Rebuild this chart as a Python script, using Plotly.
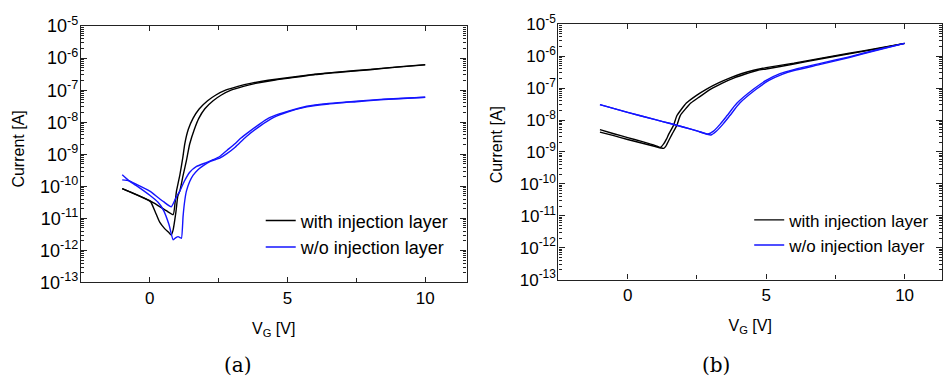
import numpy as np
import plotly.graph_objects as go

# ---------------- data (log10 of current in A) ----------------
# Panel (a)
a_with_1_v = [-1.0, -0.5, 0.0, 0.3, 0.6, 0.85, 0.92, 0.97, 1.03, 1.09, 1.2, 1.27, 1.4, 1.57, 1.8,
              2.1, 2.4, 2.75, 3.2, 3.7, 4.3, 5.0, 6.0, 7.0, 8.0, 9.0, 10.0]
a_with_1_log = [-10.07, -10.25, -10.45, -10.6, -10.76, -10.88, -10.5, -10.15, -9.9, -9.66, -9.1, -8.68,
                -8.22, -7.88, -7.58, -7.33, -7.15, -7.0, -6.88, -6.78, -6.69, -6.61, -6.5, -6.42,
                -6.35, -6.27, -6.2]
a_with_2_v = [-1.0, -0.5, 0.0, 0.04, 0.2, 0.36, 0.54, 0.7, 0.78, 0.85, 0.95, 1.02, 1.09, 1.21, 1.33,
              1.45, 1.62, 1.78, 2.0, 2.3, 2.6, 2.95, 3.4, 3.9, 4.5, 5.0, 6.0, 7.0, 8.0, 9.0, 10.0]
a_with_2_log = [-10.07, -10.26, -10.46, -10.49, -10.8, -11.12, -11.32, -11.45, -11.52, -11.35, -10.8,
                -10.3, -10.15, -9.66, -9.2, -8.68, -8.22, -7.88, -7.58, -7.33, -7.15, -7.0, -6.88,
                -6.78, -6.69, -6.63, -6.51, -6.43, -6.36, -6.28, -6.21]
a_wo_1_v = [-1.0, -0.75, -0.5, 0.0, 0.3, 0.5, 0.78, 0.9, 1.0, 1.09, 1.25, 1.45, 1.7, 2.05, 2.3, 2.54,
            2.8, 3.08, 3.3, 3.6, 4.0, 4.3, 4.7, 5.0, 5.7, 6.5, 7.5, 8.5, 9.2, 10.0]
a_wo_1_log = [-9.8, -9.83, -9.93, -10.15, -10.35, -10.48, -10.64, -10.45, -10.28, -10.15, -9.85, -9.56,
              -9.38, -9.26, -9.17, -9.07, -8.88, -8.68, -8.5, -8.3, -8.05, -7.88, -7.74, -7.66, -7.5,
              -7.41, -7.34, -7.28, -7.25, -7.22]
a_wo_2_v = [-1.0, -0.75, -0.5, 0.0, 0.3, 0.5, 0.7, 0.85, 0.95, 1.03, 1.1, 1.15, 1.21, 1.27, 1.33, 1.45,
            1.57, 1.75, 1.93, 2.2, 2.54, 2.8, 3.1, 3.5, 4.0, 4.5, 5.0, 5.7, 6.5, 7.5, 8.5, 9.2, 10.0]
a_wo_2_log = [-9.64, -9.83, -9.97, -10.28, -10.5, -10.75, -11.2, -11.67, -11.6, -11.57, -11.6, -11.62,
              -10.93, -10.45, -10.15, -9.85, -9.66, -9.48, -9.36, -9.22, -9.12, -8.98, -8.78, -8.45,
              -8.12, -7.85, -7.68, -7.52, -7.43, -7.36, -7.29, -7.26, -7.22]

# Panel (b)
b_with_1_v = [-1.0, -0.5, 0.0, 0.5, 1.0, 1.18, 1.3, 1.4, 1.48, 1.66, 1.78, 2.12, 2.5, 2.85, 3.3, 3.7,
              4.1, 4.55, 5.0, 6.0, 7.0, 8.0, 9.0, 10.0]
b_with_1_log = [-8.30, -8.43, -8.55, -8.67, -8.8, -8.86, -8.75, -8.6, -8.45, -8.16, -7.86, -7.47, -7.22,
                -7.03, -6.83, -6.68, -6.55, -6.44, -6.36, -6.22, -6.06, -5.91, -5.76, -5.6]
b_with_2_v = [-1.0, -0.5, 0.0, 0.5, 1.0, 1.3, 1.38, 1.48, 1.6, 1.78, 1.9, 2.28, 2.6, 3.0, 3.4, 3.85,
              4.25, 4.7, 5.0, 6.0, 7.0, 8.0, 9.0, 10.0]
b_with_2_log = [-8.38, -8.49, -8.61, -8.72, -8.83, -8.89, -8.82, -8.65, -8.45, -8.16, -7.86, -7.47,
                -7.27, -7.03, -6.85, -6.68, -6.56, -6.44, -6.4, -6.25, -6.08, -5.93, -5.77, -5.6]
b_wo_1_v = [-1.0, 0.0, 1.0, 1.54, 2.0, 2.5, 2.9, 3.1, 3.35, 3.6, 3.95, 4.55, 5.0, 5.5, 6.0, 7.0, 8.0,
            9.0, 10.0]
b_wo_1_log = [-7.52, -7.76, -7.99, -8.11, -8.22, -8.34, -8.44, -8.35, -8.12, -7.85, -7.47, -7.03, -6.76,
              -6.55, -6.42, -6.22, -6.02, -5.8, -5.6]
b_wo_2_v = [-1.0, 0.0, 1.0, 1.54, 2.0, 2.5, 3.0, 3.2, 3.45, 3.7, 4.05, 4.65, 5.1, 5.6, 6.0, 7.0, 8.0,
            9.0, 10.0]
b_wo_2_log = [-7.52, -7.76, -7.99, -8.11, -8.22, -8.34, -8.47, -8.35, -8.12, -7.85, -7.47, -7.03, -6.76,
              -6.56, -6.45, -6.25, -6.04, -5.82, -5.6]

series_names = ["with injection layer", "w/o injection layer"]
y_tick_exponents = [-13, -12, -11, -10, -9, -8, -7, -6, -5]
x_tick_values = [0, 5, 10]
captions = ["(a)", "(b)"]
y_title = "Current [A]"
x_title = "V<sub>G</sub> [V]"

# ---------------- figure ----------------
W, H = 943, 381
BLACK = "#000000"
BLUE = "#1414ff"
FONT = "Liberation Sans"

fig = go.Figure()


def add(x, logy, color, name, show, xa, ya, legend):
    fig.add_trace(go.Scatter(
        x=x, y=np.power(10.0, logy), mode="lines", name=name, showlegend=show,
        line=dict(color=color, width=1.4, shape="spline", smoothing=0.5),
        xaxis=xa, yaxis=ya, legend=legend))


add(a_with_1_v, a_with_1_log, BLACK, series_names[0], True, "x", "y", "legend")
add(a_with_2_v, a_with_2_log, BLACK, series_names[0], False, "x", "y", "legend")
add(a_wo_1_v, a_wo_1_log, BLUE, series_names[1], True, "x", "y", "legend")
add(a_wo_2_v, a_wo_2_log, BLUE, series_names[1], False, "x", "y", "legend")

add(b_with_1_v, b_with_1_log, BLACK, series_names[0], True, "x2", "y2", "legend2")
add(b_with_2_v, b_with_2_log, BLACK, series_names[0], False, "x2", "y2", "legend2")
add(b_wo_1_v, b_wo_1_log, BLUE, series_names[1], True, "x2", "y2", "legend2")
add(b_wo_2_v, b_wo_2_log, BLUE, series_names[1], False, "x2", "y2", "legend2")

ytickvals = [10.0 ** e for e in y_tick_exponents]
yticktext = ["10<sup>%d</sup>" % e for e in y_tick_exponents]
yminor = [k * 10.0 ** e for e in y_tick_exponents[:-1] for k in range(2, 10)]


def xaxis(domain, rng, anchor):
    return dict(domain=domain, range=rng, anchor=anchor, tickmode="array", tickvals=x_tick_values,
                ticks="inside", ticklen=5, tickwidth=1, tickcolor="#222",
                showline=True, linecolor="#222", linewidth=1.3, mirror="ticks",
                showgrid=False, zeroline=False,
                minor=dict(tickmode="array", tickvals=[2.5, 7.5], ticks="inside", ticklen=4,
                           tickcolor="#222", showgrid=False),
                tickfont=dict(family=FONT, size=17, color="black"),
                title=dict(text=x_title, font=dict(family=FONT, size=16, color="black"),
                           standoff=15))


def yaxis(domain, anchor, size):
    return dict(domain=domain, type="log", range=[-13, -5], anchor=anchor, tickmode="array",
                tickvals=ytickvals, ticktext=yticktext,
                ticks="inside", ticklen=6, tickwidth=1, tickcolor="#222",
                showline=True, linecolor="#222", linewidth=1.3, mirror="ticks",
                showgrid=False, zeroline=False, ticklabelstandoff=-2,
                minor=dict(tickmode="array", tickvals=yminor, ticks="inside", ticklen=3,
                           tickcolor="#222", showgrid=False),
                tickfont=dict(family=FONT, size=size, color="black"))


def ann_ytitle(xpx, ypx):
    return dict(text=y_title, x=xpx / W, y=1 - ypx / H, xref="paper", yref="paper",
                xanchor="center", yanchor="middle", textangle=-90, showarrow=False,
                font=dict(family=FONT, size=16, color="black"))


fig.update_layout(
    width=W, height=H, margin=dict(l=0, r=0, t=0, b=0),
    paper_bgcolor="white", plot_bgcolor="white",
    xaxis=xaxis([81 / W, 467 / W], [-2.5, 11.5], "y"),
    yaxis=yaxis([1 - 287 / H, 1 - 15 / H], "x", 18),
    xaxis2=xaxis([559 / W, 1.0], [-2.5, 11.35], "y2"),
    yaxis2=yaxis([1 - 284 / H, 1 - 13 / H], "x2", 17),
    legend=dict(x=261 / W, y=1 - 202 / H, xanchor="left", yanchor="top",
                bgcolor="rgba(0,0,0,0)", font=dict(family=FONT, size=18, color="black")),
    legend2=dict(x=750 / W, y=1 - 202 / H, xanchor="left", yanchor="top",
                 bgcolor="rgba(0,0,0,0)", font=dict(family=FONT, size=17, color="black")),
    annotations=[
        ann_ytitle(19, 145),
        ann_ytitle(497, 141),
        dict(text=captions[0], x=238 / W, y=1 - 375 / H, xref="paper", yref="paper",
             xanchor="center", yanchor="middle",
             showarrow=False, font=dict(family="DejaVu Serif", size=20, color="black")),
        dict(text=captions[1], x=717 / W, y=1 - 375 / H, xref="paper", yref="paper",
             xanchor="center", yanchor="middle",
             showarrow=False, font=dict(family="DejaVu Serif", size=20, color="black")),
    ],
)

fig.write_html("out.html")
